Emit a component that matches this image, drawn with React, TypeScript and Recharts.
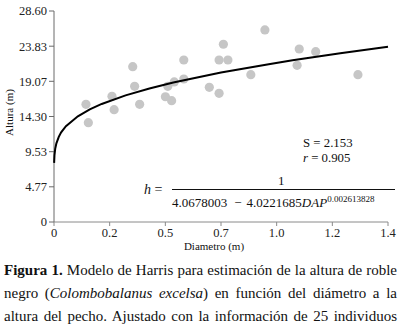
import React from "react";
import { ScatterChart, Scatter, XAxis, YAxis } from "recharts";

// observed trees: diameter (m), height (m)
const obsDiam = [
    0.134, 0.144, 0.243, 0.252, 0.33, 0.338, 0.359, 0.467, 0.477, 0.493, 0.504, 0.544,
    0.544, 0.651, 0.692, 0.71, 0.692, 0.729, 0.825, 0.884, 1.028, 1.019, 1.097, 1.274,
];
const obsHeight = [
    15.95, 13.46, 17.04, 15.22, 21.05, 18.39, 15.95, 16.98, 18.39, 16.44, 18.98, 21.96,
    19.38, 18.26, 17.44, 24.09, 21.96, 21.96, 19.97, 26.03, 23.45, 21.24, 23.08, 19.97,
];

// fitted Harris curve
const fitDiam = [0.0005, 0.002, 0.005, 0.01, 0.02, 0.03, 0.05, 0.1, 0.15, 0.2, 0.3, 0.4, 0.5, 0.7, 0.9, 1.0, 1.1, 1.2, 1.4];
const fitHeight = [8.02, 9.05, 9.91, 10.67, 11.55, 12.15, 12.99, 14.33, 15.26, 16.0, 17.16, 18.1, 18.9, 20.25, 21.39, 21.91, 22.41, 22.88, 23.76];

const yTicks = [0, 4.77, 9.53, 14.3, 19.07, 23.83, 28.6];
const xTicks = [0, 1.4 / 6, 2.8 / 6, 0.7, 5.6 / 6, 7 / 6, 1.4];
const xTickLabels = ["0", "0.2", "0.5", "0.7", "1.0", "1.2", "1.4"];

const obs = obsDiam.map((x, i) => ({ x, y: obsHeight[i] }));
const fit = fitDiam.map((x, i) => ({ x, y: fitHeight[i] }));

const serif = "'Liberation Serif', serif";
const tickStyle = { fontSize: 12.5, fill: "#222", fontFamily: serif };

const captionLine: React.CSSProperties = {
    fontFamily: serif,
    textAlign: "justify",
    textAlignLast: "justify",
    whiteSpace: "nowrap",
    height: 23,
    lineHeight: "23px",
};

export default function App() {
    return (
        <div
            style={{
                position: "absolute",
                left: 0,
                top: 0,
                width: 400,
                height: 329,
                background: "#fff",
                overflow: "hidden",
                fontFamily: serif,
                color: "#111",
            }}
        >
            <ScatterChart
                width={400}
                height={255}
                margin={{ top: 11, right: 12, left: 0, bottom: 0 }}
            >
                <XAxis
                    type="number"
                    dataKey="x"
                    domain={[0, 1.4]}
                    ticks={xTicks}
                    tickFormatter={(v, i) => xTickLabels[i]}
                    interval={0}
                    height={33}
                    tickSize={4}
                    tickMargin={2}
                    tick={tickStyle}
                    stroke="#8a8a8a"
                />
                <YAxis
                    type="number"
                    dataKey="y"
                    domain={[0, 28.6]}
                    ticks={yTicks}
                    tickFormatter={(v) => (v === 0 ? "0" : v.toFixed(2))}
                    interval={0}
                    width={54}
                    tickSize={5}
                    tickMargin={2}
                    tick={tickStyle}
                    stroke="#6a6a6a"
                />
                <Scatter
                    data={obs}
                    fill="#c6c6c6"
                    shape={(p: any) => <circle cx={p.cx} cy={p.cy} r={4.6} fill="#c6c6c6" />}
                    isAnimationActive={false}
                />
                <Scatter
                    data={fit}
                    line={{ stroke: "#000", strokeWidth: 2 }}
                    lineType="joint"
                    shape={() => <g />}
                    isAnimationActive={false}
                />
            </ScatterChart>

            {/* axis titles */}
            <div style={{ position: "absolute", left: 174, top: 240, width: 80, textAlign: "center", fontSize: 11, lineHeight: "13px", fontFamily: serif }}>
                Diametro (m)
            </div>
            <div
                style={{
                    position: "absolute",
                    left: -21,
                    top: 106,
                    width: 60,
                    textAlign: "center",
                    fontSize: 11,
                    lineHeight: "13px",
                    fontFamily: serif,
                    transform: "rotate(-90deg)",
                }}
            >
                Altura (m)
            </div>

            {/* fit statistics */}
            <div style={{ position: "absolute", left: 303, top: 136, fontSize: 12.8, lineHeight: "15px", fontFamily: serif }}>
                <div>S = 2.153</div>
                <div><i>r</i> = 0.905</div>
            </div>

            {/* model equation */}
            <div style={{ position: "absolute", left: 144, top: 182, fontSize: 14, lineHeight: "16px", fontFamily: serif }}>
                <i>h</i> =
            </div>
            <div style={{ position: "absolute", left: 278, top: 174, fontSize: 13, lineHeight: "14px", fontFamily: serif }}>1</div>
            <div style={{ position: "absolute", left: 172, top: 189, width: 223, height: 1, background: "#111" }} />
            <div style={{ position: "absolute", left: 172, top: 192, fontSize: 13, lineHeight: "14px", whiteSpace: "nowrap", fontFamily: serif }}>
                4.0678003<span style={{ margin: "0 5px 0 7px" }}>−</span>4.0221685<i>DAP</i>
                <sup style={{ fontSize: 9, verticalAlign: "5px" }}>0.002613828</sup>
            </div>

            {/* caption */}
            <div style={{ position: "absolute", left: 4, top: 259, width: 393, fontSize: 15 }}>
                <div style={captionLine}><b>Figura 1.</b> Modelo de Harris para estimación de la altura de roble</div>
                <div style={captionLine}>negro (<i>Colombobalanus excelsa</i>) en función del diámetro a la</div>
                <div style={captionLine}>altura del pecho. Ajustado con la información de 25 individuos</div>
            </div>
        </div>
    );
}
